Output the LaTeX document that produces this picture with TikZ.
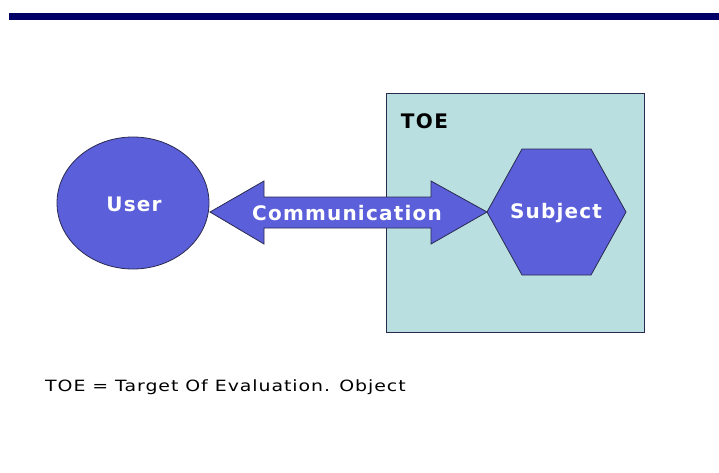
\documentclass[tikz,border=0pt]{standalone}
\usepackage{fontspec}
\usepackage{graphicx}
\setmainfont{DejaVu Sans}
\definecolor{navy}{HTML}{000066}
\definecolor{shapeblue}{HTML}{5B5FD9}
\definecolor{toefill}{HTML}{B9DFE1}
\definecolor{edgecol}{HTML}{2A2A50}
\tikzset{
  shapestyle/.style={fill=shapeblue, draw=edgecol, line width=0.8pt},
  whitelabel/.style={text=white, font=\bfseries\fontsize{20}{22}\selectfont\addfontfeature{LetterSpace=6}, inner sep=0pt},
  blacklabel/.style={text=black, inner sep=0pt}
}
\begin{document}
\begin{tikzpicture}[x=1pt,y=-1pt]
\useasboundingbox (0,0) rectangle (719,472);
\fill[white] (0,0) rectangle (719,472);
% top bar
\fill[navy] (9,13) rectangle (719,20);
% TOE box
\node[draw=edgecol, fill=toefill, line width=0.8pt, minimum width=258pt, minimum height=239pt, inner sep=0pt] (toe) at (515,212.5) {};
\node[blacklabel, font=\bfseries\fontsize{20}{22}\selectfont\addfontfeature{LetterSpace=7}] (toelabel) at (424.5,121) {TOE};
% user ellipse
\filldraw[shapestyle] (133,203) ellipse [x radius=76, y radius=66];
\node[whitelabel] (user) at (134,204) {User};
% double arrow
\filldraw[shapestyle] (210,212) -- (264,181) -- (264,197) -- (431,197) -- (431,181) -- (487,212)
  -- (431,244) -- (431,228) -- (264,228) -- (264,244) -- cycle;
\node[whitelabel] (comm) at (347,213) {Communication};
% hexagon
\filldraw[shapestyle] (487,212) -- (522,149) -- (591,149) -- (626,212) -- (591,275) -- (522,275) -- cycle;
\node[whitelabel] (subj) at (556,213) {Subject};
% bottom text
\node[blacklabel, anchor=west, font=\fontsize{15.5}{17}\selectfont\addfontfeature{LetterSpace=5}] (note) at (45,387) {\scalebox{1.22}[1]{TOE = Target Of Evaluation. Object}};
\end{tikzpicture}
\end{document}
